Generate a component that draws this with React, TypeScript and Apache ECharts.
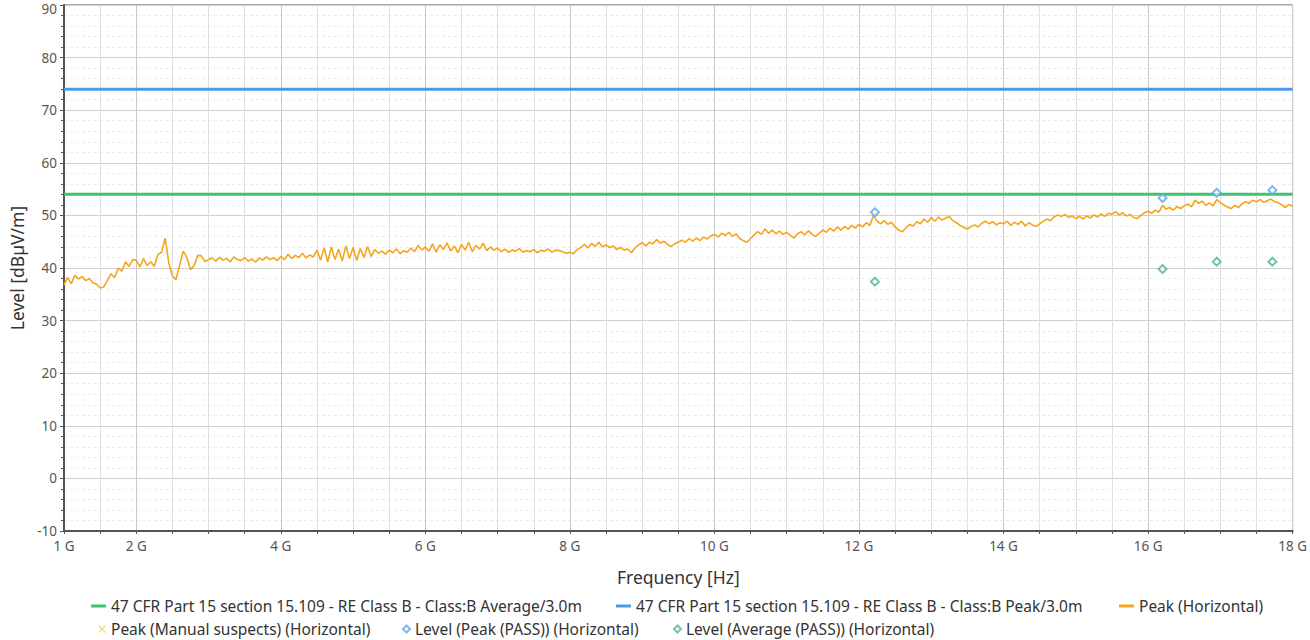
import React, { useEffect, useRef } from "react";
import * as echarts from "echarts";

// Sweep frequencies (GHz) of the Peak (Horizontal) trace
const FREQ_GHZ = [
  1, 1.05, 1.1, 1.15, 1.2, 1.25, 1.3, 1.35, 1.4, 1.45, 1.5, 1.55, 1.6, 1.65, 1.7, 1.75, 1.8, 1.85, 1.9, 1.95,
  2, 2.05, 2.1, 2.15, 2.2, 2.25, 2.3, 2.35, 2.4, 2.45, 2.5, 2.55, 2.6, 2.65, 2.7, 2.75, 2.8, 2.85, 2.9, 2.95,
  3, 3.05, 3.1, 3.15, 3.2, 3.25, 3.3, 3.35, 3.4, 3.45, 3.5, 3.55, 3.6, 3.65, 3.7, 3.75, 3.8, 3.85, 3.9, 3.95,
  4, 4.05, 4.1, 4.15, 4.2, 4.25, 4.3, 4.35, 4.4, 4.45, 4.5, 4.55, 4.6, 4.65, 4.7, 4.75, 4.8, 4.85, 4.9, 4.95,
  5, 5.05, 5.1, 5.15, 5.2, 5.25, 5.3, 5.35, 5.4, 5.45, 5.5, 5.55, 5.6, 5.65, 5.7, 5.75, 5.8, 5.85, 5.9, 5.95,
  6, 6.05, 6.1, 6.15, 6.2, 6.25, 6.3, 6.35, 6.4, 6.45, 6.5, 6.55, 6.6, 6.65, 6.7, 6.75, 6.8, 6.85, 6.9, 6.95,
  7, 7.05, 7.1, 7.15, 7.2, 7.25, 7.3, 7.35, 7.4, 7.45, 7.5, 7.55, 7.6, 7.65, 7.7, 7.75, 7.8, 7.85, 7.9, 7.95,
  8, 8.05, 8.1, 8.15, 8.2, 8.25, 8.3, 8.35, 8.4, 8.45, 8.5, 8.55, 8.6, 8.65, 8.7, 8.75, 8.8, 8.85, 8.9, 8.95,
  9, 9.05, 9.1, 9.15, 9.2, 9.25, 9.3, 9.35, 9.4, 9.45, 9.5, 9.55, 9.6, 9.65, 9.7, 9.75, 9.8, 9.85, 9.9, 9.95,
  10, 10.05, 10.1, 10.15, 10.2, 10.25, 10.3, 10.35, 10.4, 10.45, 10.5, 10.55, 10.6, 10.65, 10.7, 10.75, 10.8, 10.85, 10.9, 10.95,
  11, 11.05, 11.1, 11.15, 11.2, 11.25, 11.3, 11.35, 11.4, 11.45, 11.5, 11.55, 11.6, 11.65, 11.7, 11.75, 11.8, 11.85, 11.9, 11.95,
  12, 12.05, 12.1, 12.15, 12.2, 12.25, 12.3, 12.35, 12.4, 12.45, 12.5, 12.55, 12.6, 12.65, 12.7, 12.75, 12.8, 12.85, 12.9, 12.95,
  13, 13.05, 13.1, 13.15, 13.2, 13.25, 13.3, 13.35, 13.4, 13.45, 13.5, 13.55, 13.6, 13.65, 13.7, 13.75, 13.8, 13.85, 13.9, 13.95,
  14, 14.05, 14.1, 14.15, 14.2, 14.25, 14.3, 14.35, 14.4, 14.45, 14.5, 14.55, 14.6, 14.65, 14.7, 14.75, 14.8, 14.85, 14.9, 14.95,
  15, 15.05, 15.1, 15.15, 15.2, 15.25, 15.3, 15.35, 15.4, 15.45, 15.5, 15.55, 15.6, 15.65, 15.7, 15.75, 15.8, 15.85, 15.9, 15.95,
  16, 16.05, 16.1, 16.15, 16.2, 16.25, 16.3, 16.35, 16.4, 16.45, 16.5, 16.55, 16.6, 16.65, 16.7, 16.75, 16.8, 16.85, 16.9, 16.95,
  17, 17.05, 17.1, 17.15, 17.2, 17.25, 17.3, 17.35, 17.4, 17.45, 17.5, 17.55, 17.6, 17.65, 17.7, 17.75, 17.8, 17.85, 17.9, 17.95,
  18,
];

// Peak (Horizontal) levels in dBµV/m
const PEAK_LEVEL = [
  36.8, 38.2, 37.0, 38.6, 37.9, 38.4, 37.6, 38.0, 37.2, 36.9, 36.2, 36.4, 37.6, 38.9, 38.2, 40.0, 39.4, 41.2, 40.3, 41.6,
  41.5, 40.2, 41.8, 40.5, 41.2, 40.3, 42.6, 43.0, 45.7, 41.0, 38.5, 37.8, 40.5, 43.2, 42.0, 39.7, 40.4, 42.4, 42.3, 41.2,
  41.6, 41.9, 41.3, 42.0, 41.5, 41.8, 41.2, 42.1, 41.6, 41.4, 42.0, 41.3, 41.7, 41.1, 41.9, 41.5, 42.1, 41.6, 41.9, 41.4,
  42.2, 41.6, 42.6, 41.8, 42.4, 42.0, 42.8, 41.9, 42.5, 42.1, 43.4, 41.5, 43.8, 41.2, 44.0, 41.6, 43.6, 41.3, 44.2, 41.8,
  43.9, 41.4, 43.7, 42.0, 44.1, 42.2, 43.5, 42.8, 43.2, 42.6, 43.4, 42.9, 43.6, 42.7, 43.3, 43.0, 43.8, 43.1, 44.3, 43.4,
  44.0, 43.2, 44.6, 43.0, 44.4, 43.5, 44.8, 43.2, 44.2, 42.9, 44.5, 43.4, 44.9, 43.1, 44.3, 43.6, 44.7, 43.3, 44.0, 43.4,
  43.8, 43.1, 43.6, 43.0, 43.4, 43.2, 43.7, 43.0, 43.3, 43.1, 43.5, 42.9, 43.4, 43.2, 43.6, 43.0, 43.4, 43.3, 43.1, 42.8,
  43.0, 42.7, 43.5, 43.9, 44.5, 43.8, 44.7, 44.1, 44.9, 44.0, 44.4, 43.9, 44.2, 43.5, 43.9, 43.4, 43.6, 42.9, 43.8, 44.4,
  44.8, 44.2, 44.9, 44.6, 45.4, 44.7, 45.1, 44.5, 44.1, 44.6, 44.9, 45.3, 44.9, 45.6, 45.1, 45.7, 45.2, 45.9, 45.5, 46.1,
  46.4, 45.9, 46.6, 46.2, 46.8, 46.0, 46.5, 45.6, 45.2, 44.9, 45.6, 46.3, 46.9, 46.4, 47.4, 46.6, 47.2, 46.5, 47.0, 46.4,
  46.8, 46.2, 45.7, 46.5, 46.9, 46.3, 47.1, 46.4, 46.0, 46.6, 47.2, 46.8, 47.6, 47.0, 47.8, 47.2, 47.9, 47.4, 48.1, 47.6,
  48.3, 47.8, 48.6, 48.1, 50.0, 48.9, 48.4, 49.0, 48.3, 48.7, 47.8, 47.2, 46.9, 47.6, 48.3, 48.0, 48.8, 48.4, 49.3, 48.7,
  49.6, 48.9, 49.7, 49.1, 49.5, 49.8, 49.0, 48.6, 48.1, 47.7, 47.4, 47.9, 48.2, 47.8, 48.5, 48.9, 48.4, 48.8, 48.2, 48.6,
  48.4, 48.9, 48.1, 48.7, 48.3, 48.9, 48.0, 48.6, 48.2, 47.9, 48.4, 48.9, 49.3, 49.0, 49.7, 50.1, 49.8, 50.2, 49.6, 49.9,
  49.4, 49.8, 49.3, 49.9, 49.5, 50.1, 49.7, 50.3, 49.8, 50.4, 50.2, 50.7, 50.1, 50.5, 49.9, 50.2, 49.6, 49.4, 50.0, 50.5,
  50.8, 50.4, 51.0, 50.6, 51.9, 51.2, 51.5, 51.0, 51.7, 51.3, 51.8, 52.2, 51.6, 52.9, 52.3, 52.7, 51.9, 52.4, 51.8, 53.0,
  52.4, 52.0, 51.6, 51.3, 51.9, 51.5, 52.2, 52.6, 52.3, 52.9, 52.6, 53.0, 52.5, 52.8, 53.1, 52.6, 52.4, 52.0, 51.5, 52.1,
  51.7,
];

// Limit lines
const LIMIT_FREQ = [1, 18];
const AVG_LIMIT = [54, 54];
const PEAK_LIMIT = [74, 74];

// Final measurement points
const PASS_FREQ = [12.22, 16.2, 16.95, 17.72];
const PASS_PEAK_LEVEL = [50.6, 53.3, 54.3, 54.8];
const PASS_AVG_LEVEL = [37.4, 39.8, 41.2, 41.2];

// Manual suspects: none in this plot
const SUSPECT_FREQ: number[] = [];
const SUSPECT_LEVEL: number[] = [];

// Labelled x ticks (GHz)
const X_LABELED = [1, 2, 4, 6, 8, 10, 12, 14, 16, 18];

const NAME_AVG = "47 CFR Part 15 section 15.109 - RE Class B - Class:B Average/3.0m";
const NAME_PKL = "47 CFR Part 15 section 15.109 - RE Class B - Class:B Peak/3.0m";
const NAME_PEAK = "Peak (Horizontal)";
const NAME_SUS = "Peak (Manual suspects) (Horizontal)";
const NAME_LPK = "Level (Peak (PASS)) (Horizontal)";
const NAME_LAV = "Level (Average (PASS)) (Horizontal)";

const FONT = "'Noto Sans', 'Open Sans', sans-serif";

const C_GREEN = "#3ec46d";
const C_BLUE = "#4a9be3";
const C_ORANGE = "#f5a51c";
const C_YELLOW = "#f3c44f";
const C_MBLUE = "#5ea8e8";
const C_MGREEN = "#4fb39b";

const X_ICON = "path://M1,0L5,4L9,0L10,1L6,5L10,9L9,10L5,6L1,10L0,9L4,5L0,1Z";

const zip = (xs: number[], ys: number[]) => {
  const n = Math.min(xs.length, ys.length);
  const out: number[][] = [];
  for (let i = 0; i < n; i++) out.push([xs[i], ys[i]]);
  return out;
};

export default function App() {
  const ref = useRef<HTMLDivElement>(null);

  useEffect(() => {
    if (!ref.current) return;
    const chart = echarts.init(ref.current, undefined, { renderer: "svg" });

    const legendText = { fontFamily: FONT, fontSize: 15.5, color: "#333" };
    const mkLegend = (name: string, left: number, top: number, extra: any) => ({
      data: [name],
      left,
      top,
      orient: "horizontal",
      selectedMode: false,
      padding: 0,
      itemGap: 0,
      textStyle: legendText,
      ...extra,
    });

    const option: any = {
      animation: false,
      backgroundColor: "#ffffff",
      grid: {
        left: 64,
        right: 17,
        top: 5,
        bottom: 109,
        show: true,
        borderColor: "#555",
        borderWidth: 1,
      },
      xAxis: {
        type: "value",
        min: 1,
        max: 18,
        interval: 0.5,
        name: "Frequency [Hz]",
        nameLocation: "middle",
        nameGap: 37,
        nameTextStyle: { fontFamily: FONT, fontSize: 17.5, color: "#333" },
        axisLine: { show: true, onZero: false, lineStyle: { color: "#555", width: 2 } },
        axisTick: { show: true, length: 3, lineStyle: { color: "#555" } },
        axisLabel: {
          fontFamily: FONT,
          fontSize: 13.5,
          color: "#555",
          margin: 8,
          showMinLabel: true,
          showMaxLabel: true,
          formatter: (v: number) => (X_LABELED.indexOf(v) >= 0 ? `${v} G` : ""),
        },
        splitLine: {
          show: true,
          lineStyle: { color: ["#e0e0e0", "#e0e0e0", "#c9c9c9", "#e0e0e0"], width: 1 },
        },
      },
      yAxis: {
        type: "value",
        min: -10,
        max: 90,
        interval: 10,
        name: "Level [dBµV/m]",
        nameLocation: "middle",
        nameGap: 38,
        nameTextStyle: { fontFamily: FONT, fontSize: 17.5, color: "#333" },
        axisLine: { show: true, lineStyle: { color: "#555", width: 2 } },
        axisTick: { show: true, length: 4, lineStyle: { color: "#555" } },
        minorTick: { show: true, splitNumber: 5, length: 3, lineStyle: { color: "#555" } },
        axisLabel: {
          fontFamily: FONT,
          fontSize: 13.5,
          color: "#555",
          margin: 7,
          lineHeight: 8,
          verticalAlignMaxLabel: "top",
        },
        splitLine: { show: true, lineStyle: { color: "#cfcfcf", width: 1 } },
        minorSplitLine: { show: true, lineStyle: { color: "#ececec", width: 1, type: [3, 3] } },
      },
      legend: [
        mkLegend(NAME_AVG, 91, 598, { icon: "rect", itemWidth: 15, itemHeight: 3 }),
        mkLegend(NAME_PKL, 616, 598, { icon: "rect", itemWidth: 15, itemHeight: 3 }),
        mkLegend(NAME_PEAK, 1119, 598, { icon: "rect", itemWidth: 15, itemHeight: 3 }),
        mkLegend(NAME_SUS, 98, 621, { icon: X_ICON, itemWidth: 8, itemHeight: 8 }),
        mkLegend(NAME_LPK, 402, 621, { icon: "emptyDiamond", itemWidth: 7, itemHeight: 7 }),
        mkLegend(NAME_LAV, 673, 621, { icon: "emptyDiamond", itemWidth: 7, itemHeight: 7 }),
      ],
      series: [
        {
          name: NAME_AVG,
          type: "line",
          data: zip(LIMIT_FREQ, AVG_LIMIT),
          showSymbol: false,
          symbol: "none",
          lineStyle: { color: C_GREEN, width: 3 },
          itemStyle: { color: C_GREEN },
          z: 3,
        },
        {
          name: NAME_PKL,
          type: "line",
          data: zip(LIMIT_FREQ, PEAK_LIMIT),
          showSymbol: false,
          symbol: "none",
          lineStyle: { color: C_BLUE, width: 3 },
          itemStyle: { color: C_BLUE },
          z: 3,
        },
        {
          name: NAME_PEAK,
          type: "line",
          data: zip(FREQ_GHZ, PEAK_LEVEL),
          showSymbol: false,
          symbol: "none",
          lineStyle: { color: C_ORANGE, width: 1.6 },
          itemStyle: { color: C_ORANGE },
          z: 2,
        },
        {
          name: NAME_SUS,
          type: "scatter",
          data: zip(SUSPECT_FREQ, SUSPECT_LEVEL),
          symbol: X_ICON,
          symbolSize: 8,
          itemStyle: { color: C_YELLOW },
        },
        {
          name: NAME_LPK,
          type: "scatter",
          data: zip(PASS_FREQ, PASS_PEAK_LEVEL),
          symbol: "emptyDiamond",
          symbolSize: 8,
          itemStyle: { color: C_MBLUE, borderWidth: 1.2 },
          z: 5,
        },
        {
          name: NAME_LAV,
          type: "scatter",
          data: zip(PASS_FREQ, PASS_AVG_LEVEL),
          symbol: "emptyDiamond",
          symbolSize: 8,
          itemStyle: { color: C_MGREEN, borderWidth: 1.2 },
          z: 5,
        },
      ],
    };

    chart.setOption(option);
    return () => chart.dispose();
  }, []);

  return (
    <div
      ref={ref}
      style={{ position: "fixed", left: 0, top: 0, width: 1310, height: 640, background: "#fff" }}
    />
  );
}
